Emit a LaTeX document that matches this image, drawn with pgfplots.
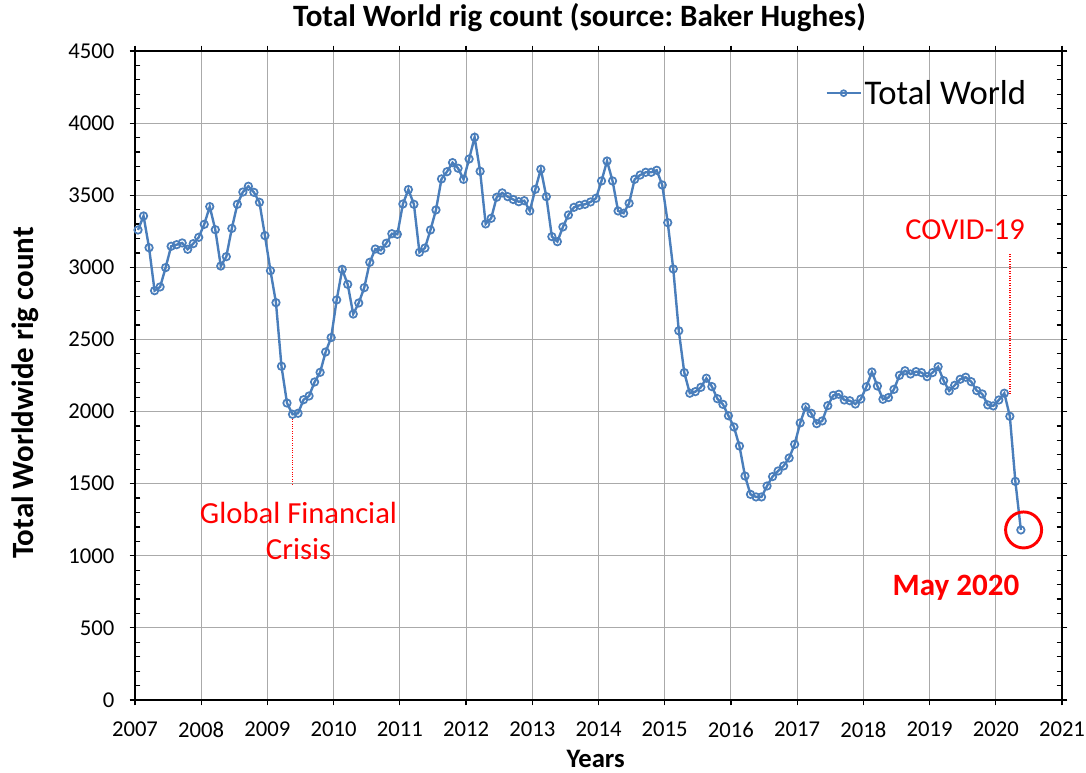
\documentclass[border=0pt]{standalone}
\usepackage{pgfplots}
\usepackage{pgfplotstable}
\pgfplotsset{compat=1.18}
\usepackage{fontspec}
\setmainfont{Carlito}
\frenchspacing
\definecolor{serblue}{RGB}{74,126,187}
\definecolor{gridgray}{RGB}{170,170,170}
\pgfplotstableread{
t v
0 3259
1 3356
2 3136
3 2838
4 2864
5 2998
6 3146
7 3157
8 3169
9 3125
10 3164
11 3208
12 3298
13 3421
14 3261
15 3009
16 3074
17 3270
18 3437
19 3522
20 3562
21 3520
22 3451
23 3220
24 2977
25 2755
26 2314
27 2059
28 1981
29 1988
30 2082
31 2108
32 2205
33 2272
34 2413
35 2513
36 2774
37 2986
38 2882
39 2676
40 2753
41 2859
42 3035
43 3127
44 3118
45 3167
46 3233
47 3229
48 3439
49 3539
50 3437
51 3104
52 3134
53 3259
54 3398
55 3613
56 3663
57 3726
58 3687
59 3610
60 3751
61 3902
62 3666
63 3301
64 3340
65 3486
66 3516
67 3490
68 3470
69 3455
70 3462
71 3391
72 3541
73 3680
74 3490
75 3213
76 3178
77 3280
78 3363
79 3416
80 3430
81 3437
82 3453
83 3479
84 3599
85 3737
86 3599
87 3391
88 3375
89 3444
90 3610
91 3640
92 3659
93 3659
94 3673
95 3571
96 3310
97 2989
98 2560
99 2270
100 2127
101 2138
102 2168
103 2231
104 2173
105 2089
106 2050
107 1971
108 1893
109 1761
110 1553
111 1426
112 1408
113 1408
114 1484
115 1549
116 1588
117 1623
118 1678
119 1773
120 1921
121 2032
122 1988
123 1916
124 1935
125 2041
126 2112
127 2120
128 2080
129 2075
130 2052
131 2087
132 2172
133 2274
134 2177
135 2085
136 2097
137 2154
138 2251
139 2283
140 2260
141 2277
142 2270
143 2242
144 2270
145 2311
146 2214
147 2143
148 2182
149 2224
150 2238
151 2207
152 2145
153 2122
154 2046
155 2039
156 2080
157 2127
158 1967
159 1516
160 1179
}\rigdata
\begin{document}
\begin{tikzpicture}
\begin{axis}[
  scale only axis, width=695.25pt, height=486.75pt,
  clip=false,
  xmin=2007, xmax=2021, ymin=0, ymax=4500,
  xtick={2007,2008,...,2021}, ytick={0,500,...,4500},
  minor x tick num=3, minor y tick num=4,
  grid=major, major grid style={gridgray, line width=0.75pt},
  axis line style={black, line width=1.5pt},
  every tick/.style={black, line width=0.9pt},
  tick align=outside, major tick length=4pt, minor tick length=-4pt,
  /pgf/number format/1000 sep={},
  /pgf/number format/assume math mode=true,
  ticklabel style={font=\fontsize{17}{17}\selectfont},
  xticklabel style={yshift=-9pt},
  yticklabel style={xshift=-8pt},
  legend style={draw=none, fill=none, font=\fontsize{26}{26}\selectfont,
    at={(axis description cs:0.7444,0.935)}, anchor=west, inner sep=0pt},
  legend image code/.code={\draw[mark repeat=2,mark phase=2, mark size=2.2pt] plot coordinates {(0cm,0cm) (0.45cm,0cm) (0.9cm,0cm)};},
]
\addplot[serblue, line width=1.8pt, mark=o, mark size=2.8pt,
  mark options={line width=1.3pt, fill=white, draw=serblue}]
  table[x expr={2007+(\thisrow{t}+0.55)/12}, y=v] {\rigdata};
\addlegendentry{Total World}
% annotations
\draw[red, densely dotted, line width=0.8pt] (axis cs:2009.38,1950) -- (axis cs:2009.38,1490);
\draw[red, densely dotted, line width=0.8pt] (axis cs:2020.215,2120) -- (axis cs:2020.215,3090);
\node[red, font=\fontsize{23}{27}\selectfont, align=center] at (axis cs:2009.47,1172) {Global Financial\\Crisis};
\node[red, font=\fontsize{22.8}{27}\selectfont] at (axis cs:2019.536,3259) {COVID-19};
\node[red, font=\bfseries\fontsize{23.3}{27}\selectfont] at (axis cs:2019.40,777) {May 2020};
\draw[red, line width=2.2pt] (axis cs:2020.42,1179) circle[radius=13.5pt];
% titles
\node[font=\bfseries\fontsize{23.3}{24}\selectfont] at (axis description cs:0.4795,1.051) {Total World rig count (source: Baker Hughes)};
\node[font=\bfseries\fontsize{23.2}{24}\selectfont, rotate=90] at (axis description cs:-0.1187,0.473) {Total Worldwide rig count};
\node[font=\bfseries\fontsize{20}{20}\selectfont] at (axis description cs:0.497,-0.091) {Years};
\end{axis}
\pgfresetboundingbox
\path (current axis.south west) ++(-101.25pt,-54.75pt) rectangle ++(814.5pt,579.75pt);
\end{tikzpicture}
\end{document}
